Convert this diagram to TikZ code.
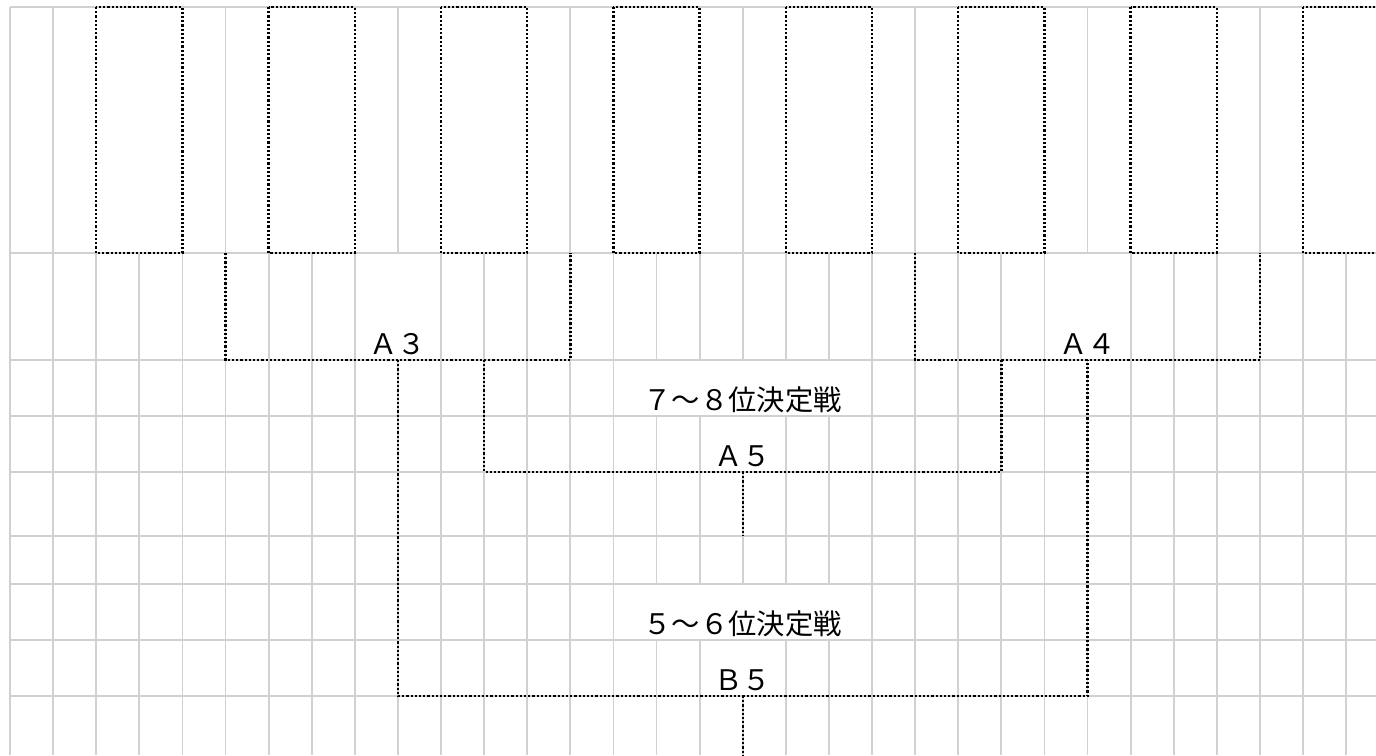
\documentclass[tikz,border=0pt]{standalone}
\usepackage{fontspec}
\newfontfamily\jpfont{Noto Sans CJK JP}
\begin{document}
\begin{tikzpicture}
  [x=21.55pt, y=-0.5pt,
   gridline/.style={draw=black!18, line width=0.9pt},
   slot/.style={black, line width=1.2pt, dash pattern=on 1.1pt off 1pt},
   bracket/.style={black, line width=1.2pt, dash pattern=on 1.1pt off 1pt},
   match/.style={font=\jpfont\fontsize{14.15pt}{17pt}\selectfont, inner sep=0pt, anchor=base}]

  \useasboundingbox (-0.232,0) rectangle (31.694,755);
  \clip (-0.232,0) rectangle (31.694,755);

  % sheet grid
  \foreach \y in {7,253,360,416,472,536,584,640,696}
    \draw[gridline] (0,\y) -- (31.694,\y);
  \foreach \k in {0,1,5,9,13,17,21,25,29}
    \draw[gridline] (\k,7) -- (\k,253);
  \foreach \k in {0,1,2,3,4,5,6,7,8,10,11,12,13,14,15,16,17,18,19,20,21,22,23,24,26,27,28,29,30,31}
    \draw[gridline] (\k,253) -- (\k,360);
  \foreach \ya/\yb in {360/416,584/640}
    \foreach \k in {0,1,2,3,4,5,6,7,8,9,10,11,12,13,14,20,21,22,23,24,25,26,27,28,29,30,31}
      \draw[gridline] (\k,\ya) -- (\k,\yb);
  \foreach \ya/\yb in {416/472,640/696}
    \foreach \k in {0,1,2,3,4,5,6,7,8,9,10,11,12,13,14,15,16,18,19,20,21,22,23,24,25,26,27,28,29,30,31}
      \draw[gridline] (\k,\ya) -- (\k,\yb);
  \foreach \ya/\yb in {472/536,536/584,696/755}
    \foreach \k in {0,...,31}
      \draw[gridline] (\k,\ya) -- (\k,\yb);

  % team slots
  \foreach \i in {0,...,7}
    \draw[slot] ({2+4*\i},7) rectangle ({4+4*\i},253);

  % bracket ends
  \coordinate (A3in1) at (5,253);
  \coordinate (A3in2) at (13,253);
  \coordinate (A3out) at (9,360);
  \coordinate (A4in1) at (21,253);
  \coordinate (A4in2) at (29,253);
  \coordinate (A4out) at (25,360);
  \coordinate (A5in1) at (11,360);
  \coordinate (A5in2) at (23,360);
  \coordinate (A5out) at (17,472);
  \coordinate (A5end) at (17,536);
  \coordinate (B5out) at (17,696);
  \coordinate (B5end) at (17,755);

  \draw[bracket] (A3in1) |- (A3out) -| (A3in2);
  \draw[bracket] (A4in1) |- (A4out) -| (A4in2);
  \draw[bracket] (A5in1) |- (A5out) -| (A5in2);
  \draw[bracket] (A5out) -- (A5end);
  \draw[bracket] (A3out) |- (B5out) -| (A4out);
  \draw[bracket] (B5out) -- (B5end);

  % labels
  \node[match] (A3) at (9,354.5) {Ａ３};
  \node[match] (A4) at (25,354.5) {Ａ４};
  \node[match] (P78) at (17,410.5) {７～８位決定戦};
  \node[match] (A5) at (17,466.5) {Ａ５};
  \node[match] (P56) at (17,634.5) {５～６位決定戦};
  \node[match] (B5) at (17,690.5) {Ｂ５};

\end{tikzpicture}
\end{document}
